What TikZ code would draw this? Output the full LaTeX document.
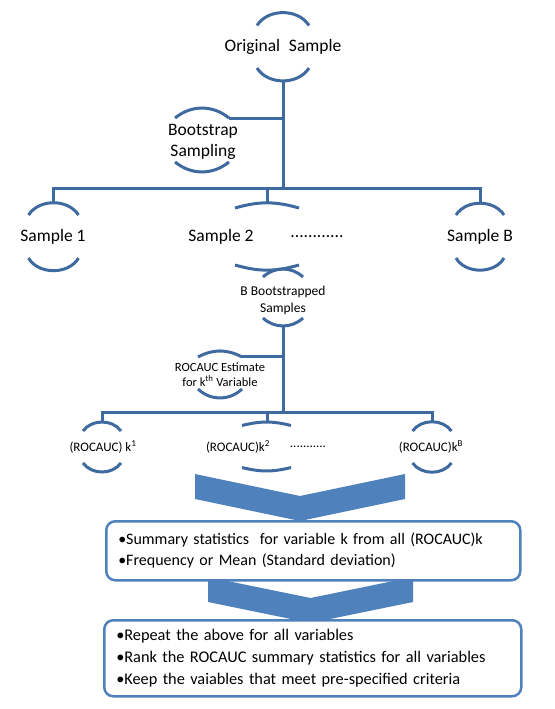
\documentclass[tikz,border=0pt]{standalone}
\usepackage{fontspec}
\setmainfont{Carlito}
\usetikzlibrary{calc}
\definecolor{lineblue}{RGB}{62,106,160}
\definecolor{accblue}{RGB}{79,129,189}
% #1 centre, #2 half chord, #3 top offset, #4 bottom offset, #5 top bend, #6 bottom bend
\newcommand\nodearcs[6]{%
  \draw[arcline] ($(#1)+(-#2,#3)$) to[bend left=#5] ($(#1)+(#2,#3)$);
  \draw[arcline] ($(#1)+(-#2,-#4)$) to[bend right=#6] ($(#1)+(#2,-#4)$);
}
\begin{document}
\begin{tikzpicture}[x=1pt,y=1pt,
  arcline/.style={draw=lineblue,line width=3pt},
  conn/.style={draw=lineblue,line width=3pt},
  lbl/.style={font=\fontsize{17.5}{21}\selectfont, inner sep=0pt, align=center},
  sml/.style={font=\fontsize{13.5}{17}\selectfont, inner sep=0pt, align=center},
  est/.style={font=\fontsize{12.5}{15}\selectfont, inner sep=0pt, align=center},
  roc/.style={font=\fontsize{13}{16}\selectfont, inner sep=0pt},
  chev/.style={fill=accblue, draw=none},
  box/.style={draw=accblue, line width=2.5pt, fill=white, rounded corners=9pt, anchor=north west, align=left}]
\useasboundingbox (0,0) rectangle (554,-709);

% ---- text nodes
\node[lbl] (orig) at (283,-46.5) {Original\hspace{0.5em}Sample};
\node[lbl] (boot) at (203,-141.5) {Bootstrap\\Sampling};
\node[lbl] (s1) at (53,-237) {Sample 1};
\node[lbl] (s2) at (221,-237) {Sample 2};
\node[lbl] (sdots) at (317,-237) {............};
\node[lbl] (sB) at (480,-237) {Sample B};
\node[sml] (bb) at (283,-300.5) {B Bootstrapped\\Samples};
\node[est] (est) at (220,-374.5) {ROCAUC Estimate\\for k\textsuperscript{th} Variable};
\node[roc] (k1) at (103,-447) {(ROCAUC) k\textsuperscript{1}};
\node[roc] (k2) at (238,-447) {(ROCAUC)k\textsuperscript{2}};
\node[roc] (kdots) at (308,-447) {...........};
\node[roc] (kB) at (431,-447) {(ROCAUC)k\textsuperscript{B}};

% ---- arc centres
\coordinate (orig-c) at (283,-46.5);
\coordinate (boot-c) at (202,-140);
\coordinate (s1-c) at (53.5,-237);
\coordinate (s2-c) at (267,-236.5);
\coordinate (sB-c) at (480,-237);
\coordinate (bb-c) at (283,-297.5);
\coordinate (est-c) at (220,-374);
\coordinate (k1-c) at (102,-447);
\coordinate (k2-c) at (266.5,-446.5);
\coordinate (kB-c) at (432,-447);

\nodearcs{orig-c}{26}{21}{21.5}{58}{58}
\nodearcs{boot-c}{27}{22}{22}{39}{39}
\nodearcs{s1-c}{25}{22}{21}{57}{60}
\nodearcs{sB-c}{24}{22}{21}{57}{60}
\nodearcs{s2-c}{32}{28.5}{28.5}{16}{16}
\nodearcs{bb-c}{20}{20.5}{20.5}{43}{43}
\nodearcs{est-c}{22}{17}{15}{28}{44}
\nodearcs{k1-c}{19}{16}{16}{54}{54}
\nodearcs{kB-c}{19.5}{16}{16}{54}{54}
\nodearcs{k2-c}{24.5}{21}{21}{14}{14}

% ---- connector anchors
\coordinate (orig-b) at (283,-80);
\coordinate (br1) at (283,-188);
\coordinate (s1-t) at (53,-203);
\coordinate (s2-t) at (267,-203);
\coordinate (sB-t) at (480,-203);
\coordinate (boot-r) at (229,-118);
\coordinate (bb-b) at (283,-326);
\coordinate (br2) at (283,-412);
\coordinate (est-r) at (242,-356);
\coordinate (k1-t) at (102,-422);
\coordinate (k2-t) at (267,-422);
\coordinate (kB-t) at (432,-422);

% ---- connectors
\draw[conn] (orig-b) -- (br1);
\draw[conn] (boot-r) -- (boot-r -| orig-b);
\draw[conn] (s1-t) -- (s1-t |- br1) -- (sB-t |- br1) -- (sB-t);
\draw[conn] (s2-t) -- (s2-t |- br1);
\draw[conn] (bb-b) -- (br2);
\draw[conn] (est-r) -- (est-r -| bb-b);
\draw[conn] (k1-t) -- (k1-t |- br2) -- (kB-t |- br2) -- (kB-t);
\draw[conn] (k2-t) -- (k2-t |- br2);

% ---- chevrons
\fill[chev] (195,-474) -- (300,-496) -- (405,-474) -- (405,-499) -- (300,-521) -- (195,-499) -- cycle;
\fill[chev] (208,-577) -- (310.5,-598) -- (413,-577) -- (413,-602) -- (310.5,-623) -- (208,-602) -- cycle;

% ---- boxes
\node[box, minimum width=414pt, minimum height=59pt, text width=390pt, inner xsep=12pt,
      font=\fontsize{16}{21}\selectfont] (sum) at (105,-520)
  {•Summary statistics\ \ for variable k from all (ROCAUC)k\\•Frequency or Mean (Standard deviation)};
\node[box, minimum width=417pt, minimum height=76pt, text width=393pt, inner xsep=12pt,
      font=\fontsize{16.3}{22}\selectfont] (rank) at (103,-619)
  {•Repeat the above for all variables\\•Rank the ROCAUC summary statistics for all variables\\•Keep the vaiables that meet pre-specified criteria};
\end{tikzpicture}
\end{document}
